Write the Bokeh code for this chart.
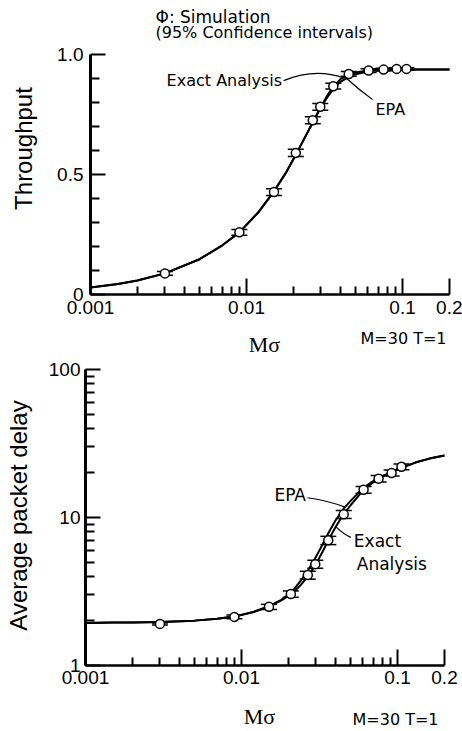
from math import pi, log10
from bokeh.plotting import figure
from bokeh.models import (FixedTicker, CustomJSTickFormatter, Label, Range1d,
                          Whisker, TeeHead, ColumnDataSource)
from bokeh.layouts import column
from bokeh.embed import file_html
from bokeh.resources import INLINE

# ---------------- data ----------------
x_curve = [0.001, 0.0015, 0.002, 0.003, 0.005, 0.007, 0.009, 0.012, 0.015, 0.018,
           0.021, 0.024, 0.027, 0.030, 0.033, 0.036, 0.040, 0.045, 0.050, 0.060,
           0.070, 0.080, 0.100, 0.130, 0.160, 0.200]
thr_exact = [0.029, 0.044, 0.058, 0.088, 0.147, 0.205, 0.259, 0.345, 0.430, 0.510,
             0.590, 0.662, 0.725, 0.782, 0.830, 0.866, 0.897, 0.916, 0.925, 0.933,
             0.936, 0.937, 0.938, 0.938, 0.938, 0.938]
thr_epa = [0.029, 0.044, 0.058, 0.088, 0.147, 0.205, 0.259, 0.345, 0.430, 0.510,
           0.590, 0.662, 0.725, 0.782, 0.822, 0.856, 0.886, 0.906, 0.918, 0.929,
           0.934, 0.937, 0.938, 0.938, 0.938, 0.938]
dly_exact = [1.94, 1.95, 1.95, 1.97, 2.01, 2.07, 2.14, 2.30, 2.50, 2.75,
             3.05, 3.50, 4.08, 4.84, 5.85, 7.00, 8.60, 10.5, 12.1, 15.2,
             17.3, 18.9, 21.2, 23.5, 25.0, 26.2]
dly_epa = [1.94, 1.95, 1.95, 1.97, 2.01, 2.07, 2.14, 2.31, 2.52, 2.78,
           3.14, 3.75, 4.49, 5.42, 6.55, 7.84, 9.55, 11.45, 12.95, 15.8,
           17.65, 19.05, 21.2, 23.5, 25.0, 26.2]

x_sim = [0.003, 0.009, 0.015, 0.0207, 0.0266, 0.0297, 0.036, 0.0452, 0.0606, 0.0756, 0.0916, 0.106]
thr_sim = [0.088, 0.259, 0.427, 0.590, 0.726, 0.782, 0.868, 0.919, 0.933, 0.937, 0.940, 0.940]
thr_ci = [0.008, 0.012, 0.014, 0.015, 0.015, 0.014, 0.012, 0.010, 0.008, 0.006, 0.005, 0.005]
dly_sim = [1.91, 2.13, 2.49, 3.04, 4.08, 4.84, 7.01, 10.5, 15.4, 18.3, 20.0, 22.0]
dly_ci = [0.03, 0.06, 0.10, 0.15, 0.25, 0.30, 0.45, 0.65, 0.80, 0.90, 0.90, 1.00]

x_ticks = [0.001, 0.01, 0.1, 0.2]
x_minor = [0.002, 0.003, 0.004, 0.005, 0.006, 0.007, 0.008, 0.009,
           0.02, 0.03, 0.04, 0.05, 0.06, 0.07, 0.08, 0.09]
thr_ticks = [0, 0.5, 1.0]
thr_minor = [0.1, 0.2, 0.3, 0.4, 0.6, 0.7, 0.8, 0.9]
dly_ticks = [1, 10, 100]
dly_minor = [2, 3, 4, 5, 6, 7, 8, 9, 20, 30, 40, 50, 60, 70, 80, 90]

SANS = "Liberation Sans"
SPACED = "DejaVu Sans"
SERIF = "Liberation Serif"

W = 462
H1, H2 = 358, 373
TOP1 = 0            # page y of top canvas
TOP2 = TOP1 + H1    # page y of bottom canvas
LEFT = 0

# ---- page-pixel layout targets ----
# top panel: x 0.001 -> 90px, 0.2 -> 449px ; y 0 -> 294px, 1.0 -> 54px
t_x0, t_x1 = 90, 449
t_y0, t_y1 = 294, 54
# bottom panel: x 0.001 -> 85px, 0.2 -> 444px ; y 1 -> 665px, 100 -> 369px
b_x0, b_x1 = 85, 444
b_y0, b_y1 = 665, 369


def log_range(px0, px1, v0, v1, lo_px, hi_px):
    dec = (px1 - px0) / (log10(v1) - log10(v0))
    return (10 ** (log10(v0) + (lo_px - px0) / dec),
            10 ** (log10(v0) + (hi_px - px0) / dec))


def lin_range(py0, py1, v0, v1, lo_py, hi_py):
    per = (py0 - py1) / (v1 - v0)
    return (v0 + (py0 - lo_py) / per, v0 + (py0 - hi_py) / per)


def base_style(p):
    p.outline_line_color = None
    p.xgrid.visible = False
    p.ygrid.visible = False
    p.background_fill_color = "white"
    p.border_fill_color = "white"


def style_x(ax, loc, standoff):
    ax.fixed_location = loc
    ax.bounds = (0.001, 0.2)
    ax.ticker = FixedTicker(ticks=x_ticks, minor_ticks=x_minor)
    ax.formatter = CustomJSTickFormatter(code="return String(tick);")
    ax.axis_line_width = 2.5
    ax.axis_line_color = "black"
    ax.major_tick_in = 16
    ax.major_tick_out = 0
    ax.minor_tick_in = 8
    ax.minor_tick_out = 0
    ax.major_tick_line_width = 2
    ax.minor_tick_line_width = 2
    ax.major_label_standoff = standoff
    ax.major_label_text_font = SANS
    ax.major_label_text_font_size = "19px"
    ax.major_label_text_color = "black"


def style_y(ax, ticks, minor, code, standoff, bounds):
    ax.fixed_location = 0.001
    ax.bounds = bounds
    ax.ticker = FixedTicker(ticks=ticks, minor_ticks=minor)
    ax.formatter = CustomJSTickFormatter(code=code)
    ax.axis_line_width = 3
    ax.axis_line_color = "black"
    ax.major_tick_in = 15
    ax.major_tick_out = 0
    ax.minor_tick_in = 9
    ax.minor_tick_out = 0
    ax.major_tick_line_width = 2
    ax.minor_tick_line_width = 2
    ax.major_label_standoff = standoff
    ax.major_label_text_font = SANS
    ax.major_label_text_font_size = "19px"
    ax.major_label_text_color = "black"


def add_series(p, y_exact, y_epa, y_sim, ci):
    p.line(x_curve, y_exact, line_color="black", line_width=2)
    p.line(x_curve, y_epa, line_color="black", line_width=2)
    src = ColumnDataSource(dict(
        x=x_sim, y=y_sim,
        upper=[v + c for v, c in zip(y_sim, ci)],
        lower=[v - c for v, c in zip(y_sim, ci)]))
    w = Whisker(base="x", upper="upper", lower="lower", source=src,
                dimension="height", line_width=1.5, line_color="black",
                upper_head=TeeHead(size=16, line_width=1.5, line_color="black"),
                lower_head=TeeHead(size=16, line_width=1.5, line_color="black"))
    p.add_layout(w)
    p.scatter("x", "y", source=src, marker="circle", size=9,
              fill_color="white", line_color="black", line_width=1.5)


def screen_label(p, canvas_top, canvas_h, px, py, text, font, size,
                 align="left", angle=0.0):
    p.add_layout(Label(x=px - LEFT, y=canvas_top + canvas_h - py,
                       x_units="screen", y_units="screen", angle=angle,
                       text=text, text_font=font, text_font_size=size,
                       text_color="black", text_align=align,
                       text_baseline="middle"))


def data_label(p, x, y, text, size, align):
    p.add_layout(Label(x=x, y=y, text=text, text_font=SPACED, text_font_size=size,
                       text_color="black", text_align=align, text_baseline="middle"))


# ---------------- top: throughput ----------------
xr1 = log_range(t_x0, t_x1, 0.001, 0.2, LEFT, LEFT + W)
yr1 = lin_range(t_y0, t_y1, 0.0, 1.0, TOP1 + H1, TOP1)
p1 = figure(width=W, height=H1, x_axis_type="log",
            x_range=Range1d(*xr1), y_range=Range1d(*yr1),
            output_backend="svg", toolbar_location=None,
            min_border_left=0, min_border_right=0,
            min_border_top=0, min_border_bottom=0)
base_style(p1)
style_x(p1.xaxis[0], 0.0, 6)
style_y(p1.yaxis[0], thr_ticks, thr_minor,
        'return tick == 1 ? "1.0" : String(tick);', 7, (0.0, 1.0))
add_series(p1, thr_exact, thr_epa, thr_sim, thr_ci)

p1.quadratic(x0=[0.0173], y0=[0.891], x1=[0.0419], y1=[0.902],
             cx=[0.0277], cy=[0.945], line_color="black", line_width=1.2)
p1.quadratic(x0=[0.0431], y0=[0.904], x1=[0.0643], y1=[0.812],
             cx=[0.0523], cy=[0.854], line_color="black", line_width=1.2)
data_label(p1, 0.0169, 0.891, "Exact Analysis", "16px", "right")
data_label(p1, 0.0671, 0.770, "EPA", "16px", "left")

screen_label(p1, TOP1, H1, 155, 16, "Φ: Simulation", SPACED, "17px")
screen_label(p1, TOP1, H1, 155, 32, "(95% Confidence intervals)", SPACED, "16px")
screen_label(p1, TOP1, H1, 23, 148, "Throughput", SANS, "24px", "center", pi / 2)
screen_label(p1, TOP1, H1, 264, 344, "Mσ", SERIF, "22px", "center")
screen_label(p1, TOP1, H1, 360, 338, "M=30 T=1", SPACED, "16px")

# ---------------- bottom: delay ----------------
xr2 = log_range(b_x0, b_x1, 0.001, 0.2, LEFT, LEFT + W)
yr2 = log_range(b_y0, b_y1, 1.0, 100.0, TOP2 + H2, TOP2)
p2 = figure(width=W, height=H2, x_axis_type="log", y_axis_type="log",
            x_range=Range1d(*xr2), y_range=Range1d(*yr2),
            output_backend="svg", toolbar_location=None,
            min_border_left=0, min_border_right=0,
            min_border_top=0, min_border_bottom=0)
base_style(p2)
style_x(p2.xaxis[0], 1.0, 5)
style_y(p2.yaxis[0], dly_ticks, dly_minor, "return String(tick);", 5, (1.0, 100.0))
add_series(p2, dly_exact, dly_epa, dly_sim, dly_ci)

p2.quadratic(x0=[0.0265], y0=[13.6], x1=[0.046], y1=[11.75],
             cx=[0.037], cy=[12.9], line_color="black", line_width=1.2)
p2.quadratic(x0=[0.0405], y0=[8.6], x1=[0.0502], y1=[7.34],
             cx=[0.0451], cy=[7.7], line_color="black", line_width=1.2)
data_label(p2, 0.0259, 14.3, "EPA", "17px", "right")
data_label(p2, 0.0525, 6.9, "Exact", "17px", "left")
data_label(p2, 0.0548, 4.84, "Analysis", "17px", "left")

screen_label(p2, TOP2, H2, 18, 515, "Average packet delay", SANS, "24px", "center", pi / 2)
screen_label(p2, TOP2, H2, 259, 716, "Mσ", SERIF, "22px", "center")
screen_label(p2, TOP2, H2, 352, 719, "M=30 T=1", SPACED, "16px")

layout = column(p1, p2, spacing=0)
open("out.html", "w").write(file_html(layout, INLINE))
